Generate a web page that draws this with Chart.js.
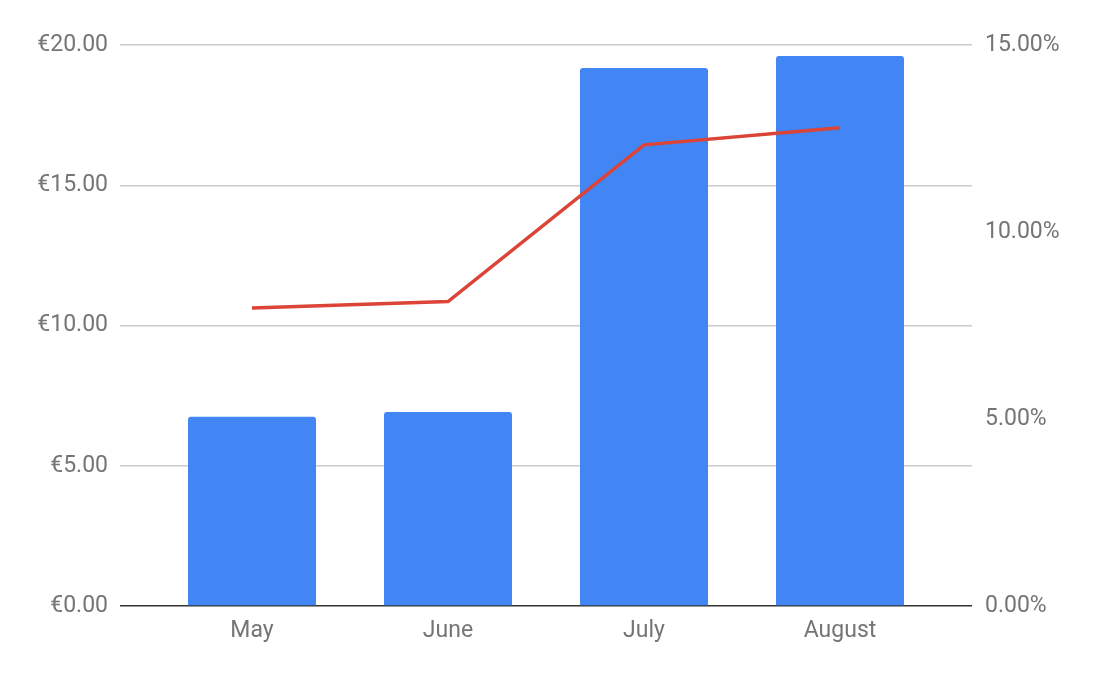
<!DOCTYPE html>
<html>
<head>
<meta charset="utf-8">
<script src="https://cdn.jsdelivr.net/npm/chart.js@4"></script>
<style>
  html, body { margin: 0; padding: 0; background: #fff; }
  #wrap { width: 1096px; height: 676px; }
</style>
</head>
<body>
<div id="wrap"><canvas id="comboChart" width="1096" height="676"></canvas></div>
<script>
// values
const months = ['May', 'June', 'July', 'August'];
const amounts = [6.75, 6.92, 19.18, 19.61];   // euro, left axis
const rates = [7.97, 8.14, 12.33, 12.79];     // percent, right axis
const euroTicks = [0, 5, 10, 15, 20];
const pctTicks = [0, 5, 10, 15];

const labelFont = { family: 'Roboto', size: 23 };
const gridColor = c => (c.tick && c.tick.value === 0 ? '#333333' : '#cccccc');

const ctx = document.getElementById('comboChart').getContext('2d');
const comboChart = new Chart(ctx, {
    type: 'bar',
    data: {
        labels: months,
        datasets: [
            {
                type: 'line',
                label: 'Rate',
                data: rates,
                yAxisID: 'y2',
                borderColor: '#db4437',
                borderWidth: 3.5,
                pointRadius: 0,
                tension: 0,
                order: 0,
            },
            {
                label: 'Amount',
                data: amounts,
                yAxisID: 'y',
                backgroundColor: '#4285f4',
                borderRadius: { topLeft: 3, topRight: 3 },
                borderSkipped: 'bottom',
                barPercentage: 0.653,
                categoryPercentage: 1,
                order: 1,
            },
        ],
    },
    options: {
        responsive: false,
        animation: false,
        layout: { padding: { top: 45, bottom: 0, left: 0, right: 0 } },
        plugins: {
            legend: { display: false },
            tooltip: { enabled: false },
        },
        scales: {
            x: {
                grid: { display: false },
                border: { display: false },
                ticks: { color: '#757575', font: labelFont, padding: 3 },
                afterFit: s => { s.height = 70; },
            },
            y: {
                position: 'left',
                min: 0,
                max: 20,
                afterBuildTicks: s => { s.ticks = euroTicks.map(v => ({ value: v })); },
                grid: { color: gridColor, lineWidth: 1.5, tickLength: 34 },
                border: { display: false },
                ticks: {
                    color: '#757575',
                    font: labelFont,
                    padding: 12,
                    callback: v => '€' + Number(v).toFixed(2),
                },
                afterFit: s => { s.width = 154; },
            },
            yR: {
                position: 'right',
                weight: 0,
                min: 0,
                max: 20,
                afterBuildTicks: s => { s.ticks = euroTicks.map(v => ({ value: v })); },
                grid: { color: gridColor, lineWidth: 1.5, tickLength: 34, drawOnChartArea: false },
                border: { display: false },
                ticks: { display: false },
                afterFit: s => { s.width = 34; },
            },
            y2: {
                position: 'right',
                weight: 1,
                min: 0,
                max: 15,
                afterBuildTicks: s => { s.ticks = pctTicks.map(v => ({ value: v })); },
                grid: { display: false },
                border: { display: false },
                ticks: {
                    color: '#757575',
                    font: labelFont,
                    padding: 5,
                    callback: v => Number(v).toFixed(2) + '%',
                },
                afterFit: s => { s.width = 124; },
            },
        },
    },
});
</script>
</body>
</html>
